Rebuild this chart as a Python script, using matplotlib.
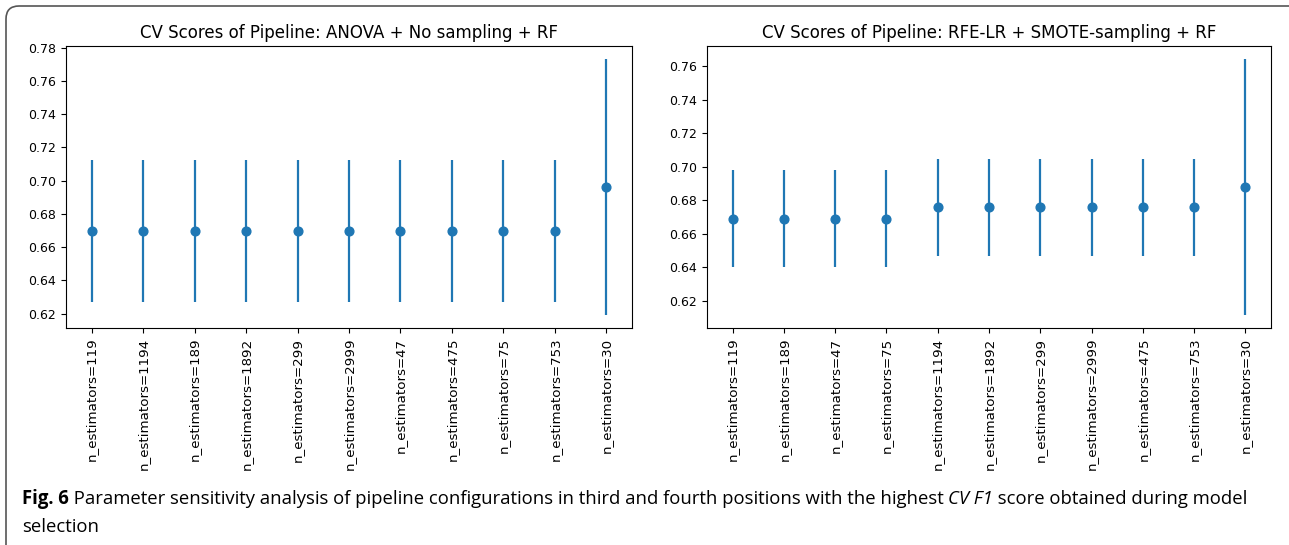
import matplotlib
matplotlib.use("Agg")
import matplotlib.pyplot as plt
from matplotlib.patches import FancyBboxPatch
from matplotlib.transforms import IdentityTransform
from matplotlib import font_manager

# values
left_labels = ["119", "1194", "189", "1892", "299", "2999", "47", "475", "75", "753", "30"]
left_mean = [0.6695] * 10 + [0.6961]
left_err = [0.0428] * 10 + [0.0771]

right_labels = ["119", "189", "47", "75", "1194", "1892", "299", "2999", "475", "753", "30"]
right_mean = [0.669] * 4 + [0.676] * 6 + [0.688]
right_err = [0.029] * 4 + [0.029] * 6 + [0.0765]

titles = ["CV Scores of Pipeline: ANOVA + No sampling + RF",
          "CV Scores of Pipeline: RFE-LR + SMOTE-sampling + RF"]

W, H = 1289, 545
fig = plt.figure(figsize=(W / 100, H / 100), dpi=100)

def px(x0, y0, x1, y1):
    return [x0 / W, 1 - y1 / H, (x1 - x0) / W, (y1 - y0) / H]

axes = [fig.add_axes(px(66, 46, 632, 328)), fig.add_axes(px(707, 46, 1271, 328))]
panels = [(left_labels, left_mean, left_err), (right_labels, right_mean, right_err)]

for ax, (labs, mean, err), title in zip(axes, panels, titles):
    xs = list(range(len(labs)))
    ax.errorbar(xs, mean, yerr=err, fmt="o", ms=6.3, elinewidth=1.6, color="C0")
    ax.set_xticks(xs)
    ax.set_xticklabels(["n_estimators=" + l for l in labs], rotation=90, fontsize=9.6)
    ax.tick_params(axis="y", labelsize=9)
    ax.set_title(title, fontsize=12)

# rounded frame (only top and left edges visible), in pixel units
frame = FancyBboxPatch((6, -100), 1500, H - 6 + 100,
                       boxstyle="round,pad=0,rounding_size=13",
                       transform=IdentityTransform(), fill=False,
                       edgecolor="#555555", lw=1.2, clip_on=False)
fig.patches.append(frame)

# caption
names = {f.name for f in font_manager.fontManager.ttflist}
cap_font = "Open Sans" if "Open Sans" in names else "DejaVu Sans"

line1 = [("Fig. 6", "bold", "normal"),
         (" Parameter sensitivity analysis of pipeline configurations in third and fourth positions with the highest ", "normal", "normal"),
         ("CV F1", "normal", "italic"),
         (" score obtained during model", "normal", "normal")]

fig.canvas.draw()
r = fig.canvas.get_renderer()

def place(parts, x, y, size):
    pieces = []
    for s, wt, st in parts:
        t = fig.text(x / W, 1 - y / H, s, fontsize=size, fontweight=wt, fontstyle=st,
                     family=cap_font, va="center", ha="left")
        bb = t.get_window_extent(r)
        x += bb.width
        pieces.append(t)
    return x, pieces

# fit the first caption line to its width in the figure
size = 12
end, pieces = place(line1, 22, 499, size)
for p in pieces:
    p.remove()
size = size * (1242 - 22) / (end - 22)
place(line1, 22, 499, size)
place([("selection", "normal", "normal")], 22, 527, size)

fig.savefig("out.png", dpi=100)
